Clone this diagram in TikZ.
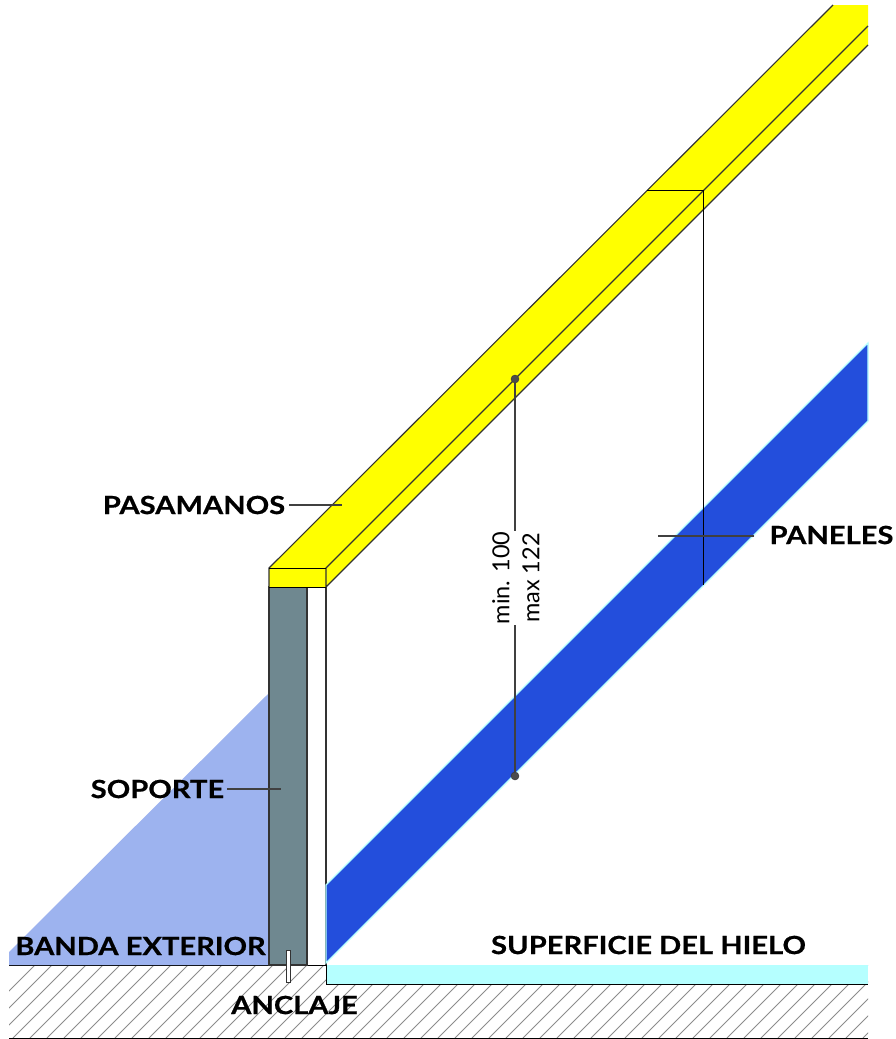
\documentclass[tikz,border=0pt]{standalone}
\usepackage{fontspec}
\setmainfont{Lato}
\newfontfamily\tagfont[FakeStretch=1.165,FakeBold=0.6]{Lato Bold}
\definecolor{railyellow}{HTML}{FFFF00}
\definecolor{postgrey}{HTML}{6F8890}
\definecolor{panelblue}{HTML}{234EDC}
\definecolor{bandblue}{HTML}{9DB3EF}
\definecolor{iceblue}{HTML}{B5FFFF}
\tikzset{
  outline/.style={draw=black!80,line width=1.1pt},
  leader/.style={draw=black!75,line width=1.1pt},
  tag/.style={font=\tagfont\fontsize{25}{25}\selectfont,inner sep=2pt},
  dimdot/.style={circle,fill=black!70,draw=black!80,inner sep=0pt,minimum size=8pt}
}
\begin{document}
\begin{tikzpicture}[x=1pt,y=-1pt]
  \useasboundingbox (0,0) rectangle (896,1039);
  % ground
  \begin{scope}
    \clip (9,965) rectangle (868,1038);
    \foreach \hx in {35,52,...,950}
      \draw[black!45,line width=0.8pt] (\hx,965) -- (\hx-73,1038);
  \end{scope}
  \fill[iceblue] (326,965) rectangle (868,984);
  \draw[line width=1pt] (9,965) -- (326,965) -- (326,984) -- (868,984);
  \draw[line width=1pt] (9,1038) -- (868,1038);
  % outer band
  \fill[bandblue] (269,693) -- (9,952) -- (9,965) -- (269,965) -- cycle;
  % post
  \draw[outline,fill=postgrey] (269,587) rectangle (307,965);
  \draw[outline] (326,587) -- (326,965);
  \draw[black!80,fill=white,line width=0.8pt] (286,950) rectangle (290,982);
  % panel
  \draw[iceblue,fill=panelblue,line width=1.2pt]
  (326,885) -- (868,343) -- (868,421) -- (326,963) -- cycle;
  % rail
  \fill[railyellow] (269,568) -- (833,5) -- (868,5) -- (868,45) -- (326,587) -- (269,587) -- cycle;
  \draw[outline] (833,5) -- (269,568) -- (269,587);
  \draw[outline] (868,26) -- (326,568) -- (326,587) -- (868,45);
  \draw[line width=1pt] (269,568) -- (326,568);
  \draw[line width=1pt] (269,587) -- (326,587);
  % section on the rail
  \coordinate (secLeft) at (647,190);
  \coordinate (secCorner) at (703,190);
  \coordinate (secEnd) at (703,585);
  \draw[line width=0.9pt] (secLeft) -- (secCorner) -- (secEnd);
  % height
  \node[dimdot] (dotTop) at (515,379) {};
  \node[dimdot] (dotBottom) at (515,776) {};
  \node[rotate=90,align=center,inner sep=1pt,font=\fontsize{23.5}{30}\selectfont] (dimText) at (516,578) {min. 100\\max 122};
  \draw[leader] (dotTop) -- (dotTop |- dimText.east);
  \draw[leader] (dotBottom) -- (dotBottom |- dimText.west);
  % labels
  \node[tag] (pasamanos) at (194,505) {PASAMANOS};
  \node[tag] (soporte) at (157.5,789) {SOPORTE};
  \node[tag] (banda) at (140.5,946) {BANDA EXTERIOR};
  \node[tag] (anclaje) at (294.5,1005) {ANCLAJE};
  \node[tag] (superficie) at (648.5,945) {SUPERFICIE DEL HIELO};
  \node[tag] (paneles) at (831.5,535) {PANELES};
  \coordinate (pasamanosEnd) at (342,505);
  \coordinate (soporteEnd) at (281,789);
  \coordinate (panelesEnd) at (658,536);
  \draw[leader] (pasamanos.east) ++(2,0) -- (pasamanosEnd);
  \draw[leader] (soporte.east) ++(1,0) -- (soporteEnd);
  \draw[leader] (paneles.west) ++(-13,1) -- (panelesEnd);
\end{tikzpicture}
\end{document}
